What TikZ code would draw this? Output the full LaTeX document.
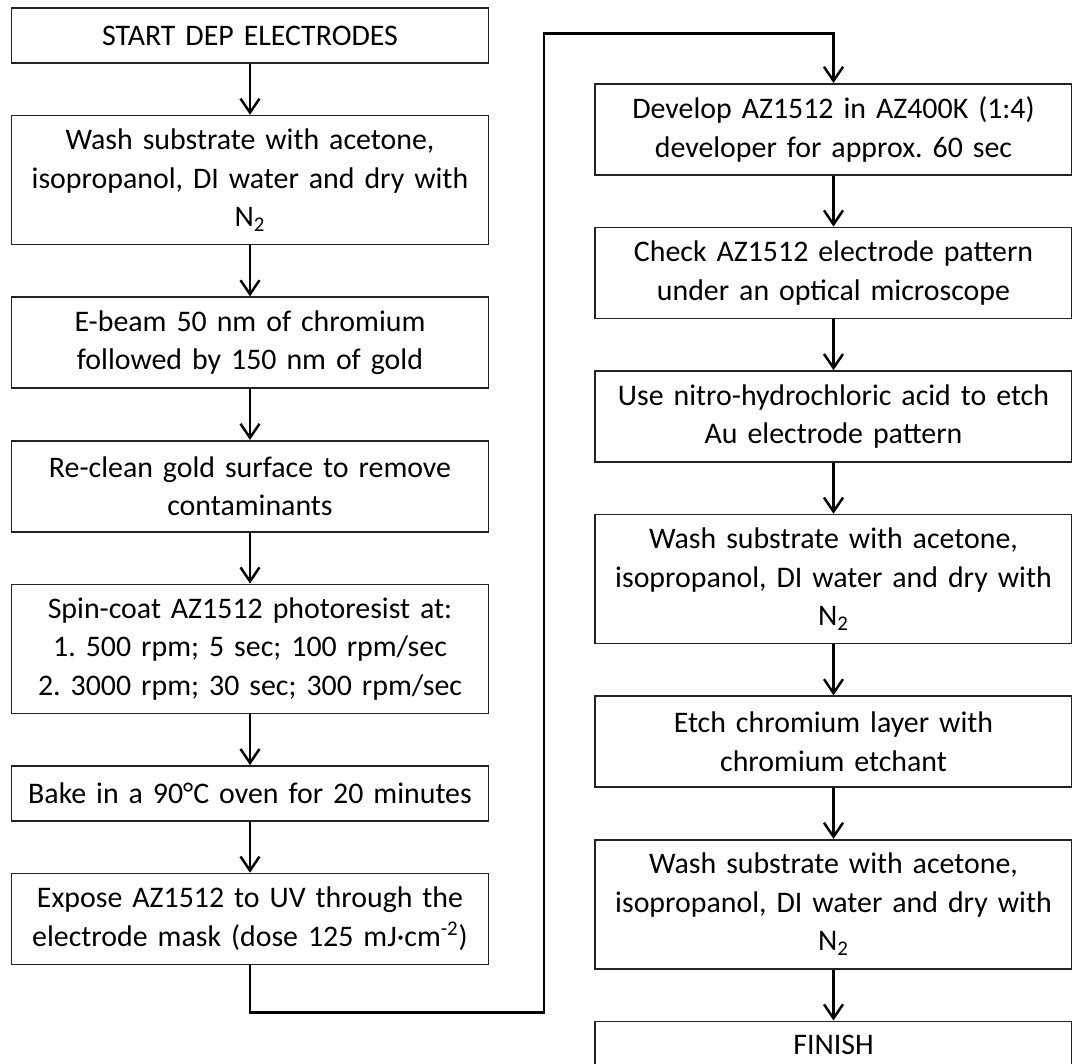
\documentclass[tikz,border=0pt]{standalone}
\usepackage{fontspec}
\setmainfont{Carlito}
\frenchspacing
\usetikzlibrary{arrows.meta,positioning}
\definecolor{boxline}{RGB}{35,35,35}
\tikzset{
  stepbox/.style={draw=boxline, line width=0.9pt, align=center, text width=9.34cm,
    inner xsep=0.1cm, inner ysep=0pt, minimum height=1.1cm,
    font=\fontsize{17}{22}\selectfont},
  twoline/.style={stepbox, minimum height=1.82cm},
  threeline/.style={stepbox, minimum height=2.58cm},
  flow/.style={-{Straight Barb[length=0.28cm,width=0.38cm,line width=1.4pt]}, line width=1.4pt}
}

\begin{document}
\begin{tikzpicture}[node distance=1.02cm]
  \useasboundingbox (0,0) rectangle (21.44,-21.26);
  % left column
  \node[stepbox] (start) at (5,-0.71) {START DEP ELECTRODES};
  \node[threeline, below=of start] (washa) {Wash substrate with acetone,\\ isopropanol, DI water and dry with\\ N\textsubscript{2}};
  \node[twoline, below=of washa] (ebeam) {E-beam 50 nm of chromium\\ followed by 150 nm of gold};
  \node[twoline, below=of ebeam] (reclean) {Re-clean gold surface to remove\\ contaminants};
  \node[threeline, below=of reclean] (spin) {Spin-coat AZ1512 photoresist at:\\ 1. 500 rpm; 5 sec; 100 rpm/sec\\ 2. 3000 rpm; 30 sec; 300 rpm/sec};
  \node[stepbox, below=of spin] (bake) {Bake in a 90°C oven for 20 minutes};
  \node[twoline, below=of bake] (expose) {Expose AZ1512 to UV through the\\ electrode mask (dose 125 mJ·cm\textsuperscript{-2})};
  % right column
  \node[twoline, anchor=north] (develop) at (16.67,-1.66) {Develop AZ1512 in AZ400K (1:4)\\ developer for approx. 60 sec};
  \node[twoline, below=of develop] (check) {Check AZ1512 electrode pattern\\ under an optical microscope};
  \node[twoline, below=of check] (nitro) {Use nitro-hydrochloric acid to etch\\ Au electrode pattern};
  \node[threeline, below=of nitro] (washb) {Wash substrate with acetone,\\ isopropanol, DI water and dry with\\ N\textsubscript{2}};
  \node[twoline, below=of washb] (etch) {Etch chromium layer with\\ chromium etchant};
  \node[threeline, below=of etch] (washc) {Wash substrate with acetone,\\ isopropanol, DI water and dry with\\ N\textsubscript{2}};
  \node[stepbox, minimum height=0.95cm, below=of washc] (finish) {FINISH};
  % connectors
  \draw[flow] (start) -- (washa);
  \draw[flow] (washa) -- (ebeam);
  \draw[flow] (ebeam) -- (reclean);
  \draw[flow] (reclean) -- (spin);
  \draw[flow] (spin) -- (bake);
  \draw[flow] (bake) -- (expose);
  \coordinate (loopbot) at (10.88,-20.24);
  \coordinate (looptop) at (10.88,-0.66);
  \draw[flow, line width=1.7pt] (expose.south) |- (loopbot) -- (looptop) -| (develop.north);
  \draw[flow] (develop) -- (check);
  \draw[flow] (check) -- (nitro);
  \draw[flow] (nitro) -- (washb);
  \draw[flow] (washb) -- (etch);
  \draw[flow] (etch) -- (washc);
  \draw[flow] (washc) -- (finish);
\end{tikzpicture}
\end{document}
